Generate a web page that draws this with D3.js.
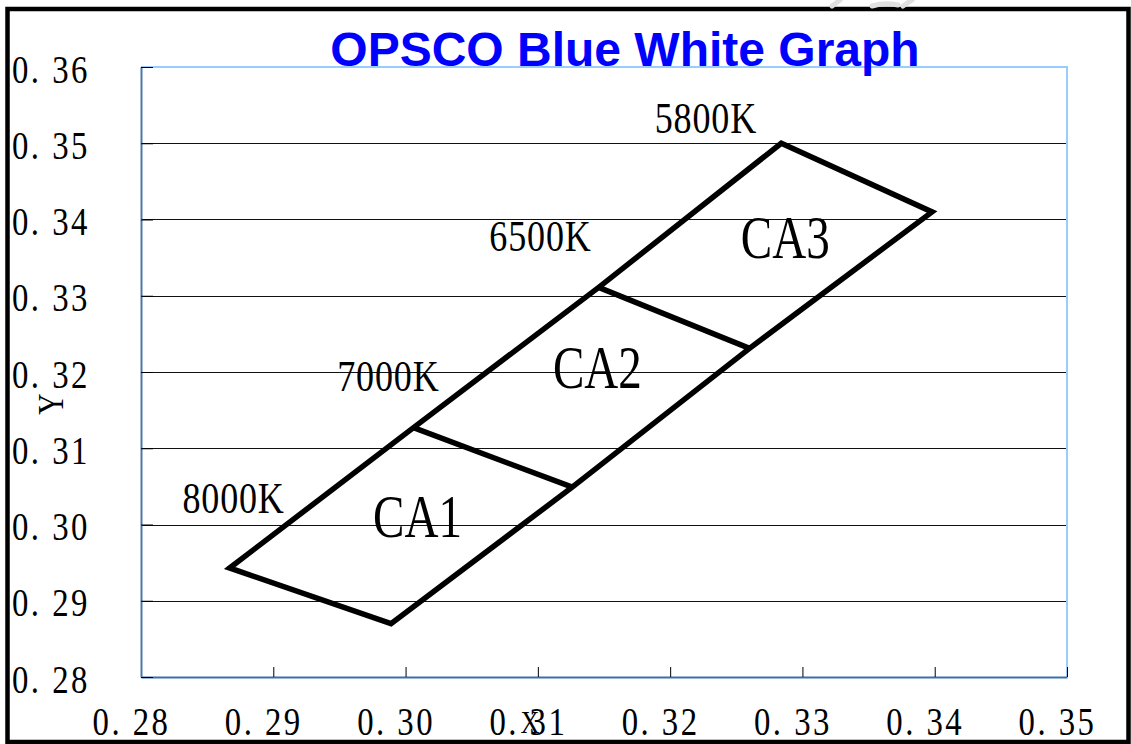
<!DOCTYPE html>
<html>
<head>
<meta charset="utf-8">
<script src="https://cdn.jsdelivr.net/npm/d3@7"></script>
<style>
	body { margin: 0; background: #fff; }
	svg { display: block; }
</style>
</head>
<body>
<svg id="chart"></svg>
<script>
// chart data (CIE x, y)
const xTicks = [0.28, 0.29, 0.30, 0.31, 0.32, 0.33, 0.34, 0.35];
const yTicks = [0.28, 0.29, 0.30, 0.31, 0.32, 0.33, 0.34, 0.35, 0.36];

// outer boundary of the CA bins
const outline = [
	[0.2867, 0.2943],
	[0.3006, 0.3127],
	[0.3146, 0.3311],
	[0.3284, 0.3500],
	[0.3398, 0.3410],
	[0.3260, 0.3231],
	[0.3126, 0.3049],
	[0.2989, 0.2870],
];

// bin dividers
const dividers = [
	[[0.3006, 0.3127], [0.3126, 0.3049]],
	[[0.3146, 0.3311], [0.3260, 0.3231]],
];

const cctLabels = ['8000K', '7000K', '6500K', '5800K'];
const cctPos = [[0.2870, 0.3015], [0.2987, 0.3175], [0.3102, 0.3359], [0.3227, 0.3513]];

const binLabels = ['CA1', 'CA2', 'CA3'];
const binPos = [[0.3009, 0.2984], [0.3145, 0.3179], [0.3287, 0.3350]];

const W = 1131;
const H = 744;
const svg = d3.select('#chart')
	.attr('width', W)
	.attr('height', H);

const x = d3.scaleLinear().domain([0.28, 0.35]).range([141, 1067]);
const y = d3.scaleLinear().domain([0.28, 0.36]).range([677, 67]);
const fmt = v => d3.format('.2f')(v).replace('.', '. ');
const serif = '"Liberation Serif", "DejaVu Serif", serif';
const squeeze = 0.82; // the original serif is tall and narrow

// outer frame
svg.append('rect')
	.attr('x', 7.5)
	.attr('y', 9)
	.attr('width', 1121)
	.attr('height', 733)
	.attr('fill', 'none')
	.attr('stroke', '#000')
	.attr('stroke-width', 4.5);

// faint watermark smudge above the frame
svg.append('g')
	.attr('stroke', '#e0e0e0')
	.attr('stroke-width', 5)
	.attr('stroke-linecap', 'round')
	.attr('fill', 'none')
	.selectAll('path')
	.data(['M832,6 L840,0', 'M872,6 Q885,2 898,5', 'M903,6 L912,0'])
	.join('path')
	.attr('d', d => d);

// grid lines
svg.append('g')
	.selectAll('line')
	.data(yTicks.slice(1, -1))
	.join('line')
	.attr('x1', x(0.28))
	.attr('x2', x(0.35))
	.attr('y1', d => Math.round(y(d)) + 0.5)
	.attr('y2', d => Math.round(y(d)) + 0.5)
	.attr('stroke', '#111')
	.attr('stroke-width', 1);

// plot border: light blue top / right
svg.append('path')
	.attr('d', `M${x(0.28)},${y(0.36)} H${x(0.35)} V${y(0.28)}`)
	.attr('fill', 'none')
	.attr('stroke', '#99ccff')
	.attr('stroke-width', 2);

// x axis (ticks inward)
const xAxis = svg.append('g')
	.attr('transform', `translate(0,${y(0.28)})`)
	.call(d3.axisBottom(x).tickValues(xTicks).tickSizeInner(-10).tickSizeOuter(0).tickFormat(fmt));
xAxis.select('.domain').attr('stroke', '#3a6fb0').attr('stroke-width', 2);
xAxis.selectAll('.tick line').attr('stroke', '#000');
xAxis.selectAll('.tick text')
	.attr('y', null)
	.attr('dy', null)
	.attr('transform', `translate(-10,58) scale(${squeeze},1)`)
	.attr('font-family', serif)
	.attr('font-size', 40)
	.attr('letter-spacing', 3)
	.attr('fill', '#000');

// y axis (ticks inward)
const yAxis = svg.append('g')
	.attr('transform', `translate(${x(0.28)},0)`)
	.call(d3.axisLeft(y).tickValues(yTicks).tickSizeInner(-12).tickSizeOuter(0).tickFormat(fmt));
yAxis.select('.domain').attr('stroke', '#4a78a8').attr('stroke-width', 2);
yAxis.selectAll('.tick line').attr('stroke', '#000');
yAxis.selectAll('.tick text')
	.attr('x', null)
	.attr('dy', null)
	.attr('transform', `translate(-129,15) scale(${squeeze},1)`)
	.attr('text-anchor', 'start')
	.attr('font-family', serif)
	.attr('font-size', 40)
	.attr('letter-spacing', 3)
	.attr('fill', '#000');

// bins
const line = d3.line().x(d => x(d[0])).y(d => y(d[1]));
svg.append('path')
	.attr('d', line(outline) + 'Z')
	.attr('fill', 'none')
	.attr('stroke', '#000')
	.attr('stroke-width', 5.5)
	.attr('stroke-linejoin', 'miter');

svg.append('g')
	.selectAll('path')
	.data(dividers)
	.join('path')
	.attr('d', d => line(d))
	.attr('stroke', '#000')
	.attr('stroke-width', 5.5);

// CCT labels
svg.append('g')
	.selectAll('text')
	.data(cctLabels)
	.join('text')
	.attr('transform', (d, i) => `translate(${x(cctPos[i][0])},${y(cctPos[i][1])}) scale(${squeeze},1)`)
	.attr('text-anchor', 'middle')
	.attr('font-family', serif)
	.attr('font-size', 44)
	.attr('letter-spacing', 1)
	.text(d => d);

// bin labels
svg.append('g')
	.selectAll('text')
	.data(binLabels)
	.join('text')
	.attr('transform', (d, i) => `translate(${x(binPos[i][0])},${y(binPos[i][1])}) scale(0.76,1)`)
	.attr('text-anchor', 'middle')
	.attr('font-family', serif)
	.attr('font-size', 62)
	.text(d => d);

// axis titles
svg.append('text')
	.attr('transform', `translate(530,733) scale(${squeeze},1)`)
	.attr('text-anchor', 'middle')
	.attr('font-family', serif)
	.attr('font-size', 32)
	.text('X');

svg.append('text')
	.attr('transform', `translate(63,404) rotate(-90) scale(${squeeze},1)`)
	.attr('text-anchor', 'middle')
	.attr('font-family', serif)
	.attr('font-size', 36)
	.text('Y');

// title
svg.append('text')
	.attr('x', 625)
	.attr('y', 66)
	.attr('text-anchor', 'middle')
	.attr('font-family', '"Liberation Sans", Arial, sans-serif')
	.attr('font-weight', 'bold')
	.attr('font-size', 48)
	.attr('fill', '#0000ff')
	.text('OPSCO Blue White Graph');
</script>
</body>
</html>
